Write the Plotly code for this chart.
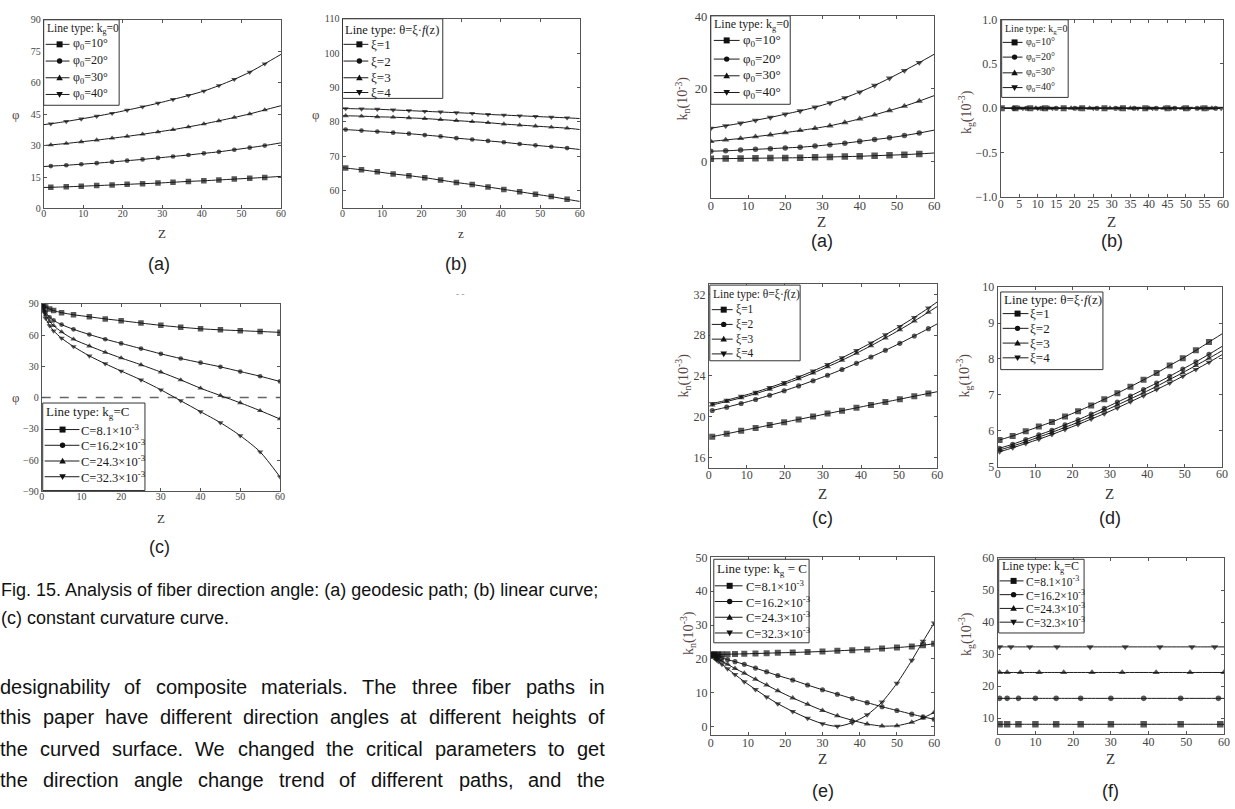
import plotly.graph_objects as go

W, H = 1235, 809

# ===================== DATA =====================
# Fig.15 (a): fibre direction angle phi, geodesic path (k_g = 0)
z15a = [0, 1.8, 5.7, 9.5, 13.4, 17.3, 21.1, 25.0, 28.9, 32.7, 36.6, 40.5, 44.3, 48.2, 52.1, 55.9, 60]
phi15a_10 = [10.0, 10.1, 10.3, 10.6, 10.9, 11.2, 11.5, 11.8, 12.1, 12.5, 12.9, 13.2, 13.6, 14.0, 14.4, 14.8, 15.3]
phi15a_20 = [20.0, 20.2, 20.6, 21.1, 21.6, 22.2, 22.8, 23.4, 24.1, 24.8, 25.5, 26.3, 27.0, 28.0, 29.0, 30.0, 31.3]
phi15a_30 = [30.0, 30.3, 31.0, 31.8, 32.6, 33.5, 34.4, 35.4, 36.5, 37.6, 38.9, 40.3, 41.8, 43.4, 45.1, 47.0, 49.0]
phi15a_40 = [40.0, 40.4, 41.5, 42.7, 44.0, 45.4, 46.9, 48.5, 50.2, 52.0, 53.9, 56.0, 58.6, 61.6, 65.0, 69.0, 73.5]

# Fig.15 (b): linear curve theta = xi * f(z)
z15b = [0, 0.8, 4.8, 8.8, 12.8, 16.8, 20.8, 24.8, 28.8, 32.8, 36.8, 40.8, 44.8, 48.8, 52.8, 56.8, 60]
phi15b_1 = [66.7, 66.6, 66.1, 65.5, 64.9, 64.4, 63.8, 63.1, 62.4, 61.8, 61.1, 60.4, 59.7, 59.0, 58.3, 57.5, 56.9]
phi15b_2 = [77.9, 77.8, 77.5, 77.2, 76.9, 76.6, 76.2, 75.8, 75.3, 74.9, 74.5, 74.1, 73.6, 73.2, 72.8, 72.4, 72.0]
phi15b_3 = [81.8, 81.8, 81.7, 81.5, 81.4, 81.2, 81.0, 80.7, 80.4, 80.1, 79.8, 79.4, 79.1, 78.8, 78.5, 78.2, 77.8]
phi15b_4 = [83.9, 83.9, 83.8, 83.7, 83.5, 83.3, 83.1, 82.9, 82.7, 82.5, 82.2, 82.0, 81.8, 81.6, 81.4, 81.2, 81.0]

# Fig.15 (c): constant curvature curve k_g = C
z15c = [0, 0.5, 1, 2, 3, 5, 8, 12, 16, 20, 25, 30, 35, 40, 45, 50, 55, 60]
phi15c_81 = [90, 88.5, 87, 85, 83.5, 81.5, 79.5, 77.5, 75.5, 73.8, 71.5, 69.3, 67.5, 66.0, 65.0, 64.2, 63.4, 62.6]
phi15c_162 = [90, 86, 82, 77, 74, 70, 65.5, 60.5, 56, 52, 47, 42, 37.5, 33.5, 29.5, 25, 20.5, 15.5]
phi15c_243 = [90, 84, 79, 73, 69, 63, 56, 49.5, 43.5, 38, 31.5, 24.5, 17, 9, 2, -5, -12.5, -20.5]
phi15c_323 = [90, 82, 76, 69, 64, 57, 49, 40, 32.5, 25.5, 17, 7.5, -3, -13.5, -24, -36.5, -52, -76]

# Right (a): normal curvature k_n, geodesic path
z16a = [0, 4, 8, 12, 16, 20, 24, 28, 32, 36, 40, 44, 48, 52, 56, 60]
kn16a_10 = [0.7, 0.75, 0.8, 0.85, 0.9, 0.95, 1.0, 1.1, 1.2, 1.3, 1.4, 1.55, 1.7, 1.85, 2.05, 2.3]
kn16a_20 = [2.8, 2.9, 3.1, 3.3, 3.5, 3.7, 3.9, 4.2, 4.6, 5.0, 5.5, 6.0, 6.5, 7.1, 7.8, 8.6]
kn16a_30 = [5.5, 5.9, 6.3, 6.8, 7.3, 7.9, 8.5, 9.1, 9.8, 10.7, 11.7, 12.8, 14.0, 15.2, 16.6, 18.1]
kn16a_40 = [9.1, 9.8, 10.5, 11.3, 12.1, 13.0, 13.9, 14.9, 16.1, 17.5, 19.1, 20.9, 22.9, 25.0, 27.2, 29.5]

# Right (b): geodesic curvature k_g, geodesic path (all zero)
z16b_10 = [0, 0.3, 4, 8, 12, 17, 22, 28, 33, 39, 45, 50, 55, 60]
z16b_20 = [0, 3.5, 7, 11, 15, 20, 26, 31, 36, 42, 47, 53, 58, 60]
z16b_30 = [0, 5, 9.5, 13, 19, 24, 29.5, 35, 40, 44, 49, 54, 57, 60]
z16b_40 = [0, 6, 10, 14, 21, 25, 32, 37, 41, 46, 51, 56, 59.5, 60]
kg16b_10 = [0, 0, 0, 0, 0, 0, 0, 0, 0, 0, 0, 0, 0, 0]
kg16b_20 = [0, 0, 0, 0, 0, 0, 0, 0, 0, 0, 0, 0, 0, 0]
kg16b_30 = [0, 0, 0, 0, 0, 0, 0, 0, 0, 0, 0, 0, 0, 0]
kg16b_40 = [0, 0, 0, 0, 0, 0, 0, 0, 0, 0, 0, 0, 0, 0]

# Right (c): k_n, linear curve
z16c = [0.9, 4.7, 8.5, 12.3, 16.0, 19.8, 23.6, 27.4, 31.2, 35.0, 38.8, 42.6, 46.4, 50.2, 54.0, 57.7, 60]
kn16c_1 = [18.06, 18.34, 18.63, 18.91, 19.19, 19.47, 19.75, 20.03, 20.32, 20.6, 20.88, 21.17, 21.45, 21.73, 22.02, 22.29, 22.46]
kn16c_2 = [20.62, 20.95, 21.31, 21.70, 22.11, 22.55, 23.03, 23.54, 24.07, 24.64, 25.24, 25.86, 26.52, 27.20, 27.92, 28.64, 29.10]
kn16c_3 = [21.17, 21.50, 21.87, 22.27, 22.71, 23.20, 23.72, 24.29, 24.90, 25.54, 26.23, 26.96, 27.73, 28.53, 29.38, 30.25, 30.80]
kn16c_4 = [21.30, 21.63, 22.01, 22.42, 22.87, 23.37, 23.91, 24.49, 25.12, 25.78, 26.49, 27.24, 28.03, 28.86, 29.74, 30.65, 31.25]

# Right (d): k_g, linear curve
z16d = [0.5, 4, 7.5, 11, 14.5, 18, 21.5, 25, 28.5, 32, 35.5, 39, 42.5, 46, 49.5, 53, 56.5, 60]
kg16d_1 = [5.75, 5.86, 5.99, 6.12, 6.25, 6.40, 6.55, 6.71, 6.88, 7.05, 7.23, 7.42, 7.61, 7.82, 8.02, 8.24, 8.47, 8.70]
kg16d_2 = [5.52, 5.63, 5.76, 5.89, 6.02, 6.17, 6.31, 6.47, 6.63, 6.80, 6.97, 7.15, 7.33, 7.52, 7.72, 7.92, 8.13, 8.35]
kg16d_3 = [5.47, 5.58, 5.70, 5.83, 5.96, 6.10, 6.24, 6.40, 6.56, 6.72, 6.89, 7.06, 7.24, 7.43, 7.62, 7.82, 8.02, 8.23]
kg16d_4 = [5.42, 5.53, 5.65, 5.77, 5.90, 6.04, 6.18, 6.33, 6.48, 6.64, 6.81, 6.98, 7.15, 7.33, 7.52, 7.71, 7.91, 8.12]

# Right (e): k_n, constant curvature curve
z16e = [0, 0.5, 1, 1.5, 2, 3, 4.5, 6.5, 9, 12, 15, 18, 22, 26, 30, 34, 38, 42, 46, 50, 54, 57, 60]
kn16e_81 = [21.3, 21.3, 21.3, 21.3, 21.3, 21.35, 21.4, 21.45, 21.5, 21.6, 21.7, 21.8, 21.9, 22.05, 22.2, 22.4, 22.6, 22.8, 23.05, 23.35, 23.7, 24.05, 24.5]
kn16e_162 = [21.3, 21.15, 21.0, 20.85, 20.7, 20.3, 19.8, 19.2, 18.4, 17.3, 16.2, 15.1, 13.8, 12.3, 10.9, 9.6, 8.3, 7.1, 5.9, 4.8, 3.7, 2.9, 2.2]
kn16e_243 = [21.3, 20.9, 20.5, 20.2, 19.9, 19.3, 18.4, 17.2, 15.8, 14.0, 12.3, 10.6, 8.5, 6.6, 4.8, 3.2, 1.9, 0.8, 0.2, 0.3, 1.3, 2.6, 4.2]
kn16e_323 = [21.3, 20.8, 20.3, 19.8, 19.3, 18.4, 17.1, 15.4, 13.3, 11.0, 8.8, 6.8, 4.5, 2.5, 0.9, 0.1, 1.2, 3.5, 7.3, 12.8, 19.6, 25.2, 30.6]

# Right (f): k_g, constant curvature curve
z16f_81 = [0, 0.5, 2.5, 5.5, 10, 15.5, 22, 30, 38.7, 48.5, 59, 60]
z16f_162 = [0, 0.5, 2.5, 5.5, 10, 15.5, 22, 30, 38.7, 48.5, 58.5, 60]
z16f_243 = [0, 0.5, 2.5, 6, 11, 17.5, 25, 33, 42, 51, 60]
z16f_323 = [0, 0.5, 3.5, 8.5, 15.7, 24.5, 33.8, 43, 51.5, 57.5, 60]
kg16f_81 = [8.1, 8.1, 8.1, 8.1, 8.1, 8.1, 8.1, 8.1, 8.1, 8.1, 8.1, 8.1]
kg16f_162 = [16.2, 16.2, 16.2, 16.2, 16.2, 16.2, 16.2, 16.2, 16.2, 16.2, 16.2, 16.2]
kg16f_243 = [24.3, 24.3, 24.3, 24.3, 24.3, 24.3, 24.3, 24.3, 24.3, 24.3, 24.3]
kg16f_323 = [32.3, 32.3, 32.3, 32.3, 32.3, 32.3, 32.3, 32.3, 32.3, 32.3, 32.3]

# legend labels
phi0_labels = ["φ<sub>0</sub>=10°", "φ<sub>0</sub>=20°", "φ<sub>0</sub>=30°", "φ<sub>0</sub>=40°"]
xi_labels = ["ξ=1", "ξ=2", "ξ=3", "ξ=4"]
c_labels = ["C=8.1×10<sup>-3</sup>", "C=16.2×10<sup>-3</sup>", "C=24.3×10<sup>-3</sup>", "C=32.3×10<sup>-3</sup>"]
SYMS = ["square", "circle", "triangle-up", "triangle-down"]

caption_lines = ["Fig. 15. Analysis of fiber direction angle: (a) geodesic path; (b) linear curve;",
                 "(c) constant curvature curve."]
body_lines = ["designability of composite materials. The three fiber paths in",
              "this paper have different direction angles at different heights of",
              "the curved surface. We changed the critical parameters to get",
              "the direction angle change trend of different paths, and the"]

# ===================== STYLE / LAYOUT =====================
SERIF = "Liberation Serif, Times New Roman, serif"
SANS = "Liberation Sans, Arial, sans-serif"
INK = "#1a1a1a"
TICKC = "#444444"
LABC = "#5a4646"


def fx(p):
    return p / W


def fy(p):
    return 1 - p / H


# panel: id, (left, right, top, bottom) px, x range, y range, x dtick, y dtick, y tick0, tick font size, y format
panels = [
    ("1", (41, 280, 13, 205), [0, 60], [0, 90], 10, 15, 0, 10, None),
    ("2", (342, 581, 12, 204.5), [0, 60], [55, 110], 10, 10, 60, 10, None),
    ("3", (39, 279, 302, 493), [0, 60], [-90, 90], 10, 30, 0, 10, None),
    ("4", (713, 938, 9.3, 194), [0, 60], [-10, 40], 10, 20, 0, 12.5, None),
    ("5", (1005, 1229, 13, 193), [0, 60], [-1, 1], 5, 0.5, 0, 12, ".1f"),
    ("6", (711, 941, 282, 469), [0, 60], [15, 33], 10, 4, 16, 12, None),
    ("7", (1002, 1228, 285, 468), [0, 60], [5, 10], 10, 1, 5, 12, None),
    ("8", (713, 938, 560, 741), [0, 60], [-2.5, 50], 10, 10, 0, 12, None),
    ("9", (1002, 1230, 561, 740), [0, 60], [5, 60], 10, 10, 10, 12, None),
]

fig = go.Figure()
layout_axes = {}
for pid, (l, r, t, b), xr, yr, xd, yd, y0, tfs, yfmt in panels:
    xname = "xaxis" if pid == "1" else "xaxis" + pid
    yname = "yaxis" if pid == "1" else "yaxis" + pid
    xref = "x" if pid == "1" else "x" + pid
    yref = "y" if pid == "1" else "y" + pid
    common = dict(showline=True, linecolor="#555555", linewidth=1, mirror="ticks", ticks="inside",
                  ticklen=3, tickcolor="#555555", showgrid=False, zeroline=False, fixedrange=True,
                  tickfont=dict(family=SERIF, size=tfs, color=TICKC))
    layout_axes[xname] = dict(domain=[fx(l), fx(r)], range=xr, dtick=xd, tick0=0, anchor=yref,
                              ticklabelstandoff=-4, **common)
    ya = dict(domain=[fy(b), fy(t)], range=yr, dtick=yd, tick0=y0, anchor=xref, **common)
    if yfmt:
        ya["tickformat"] = yfmt
    layout_axes[yname] = ya


def ax(pid):
    return ("x", "y") if pid == "1" else ("x" + pid, "y" + pid)


def add_series(pid, z, v, sym, name, msize=6, first=True, last=True):
    xa, ya = ax(pid)
    sizes = [msize] * len(z)
    if not first:
        sizes[0] = 0
    if not last:
        sizes[-1] = 0
    if sym == "circle":
        sizes = [s * 0.85 for s in sizes]
    fig.add_trace(go.Scatter(
        x=z, y=v, xaxis=xa, yaxis=ya, mode="lines+markers", name=name, showlegend=False,
        line=dict(color=INK, width=1, shape="spline", smoothing=0.7),
        marker=dict(symbol=sym, size=sizes, color="#111111", line=dict(width=0))))


shapes = []
annotations = []

# zero reference (dashed) in Fig.15 (c)
shapes.append(dict(type="line", xref="x3", yref="y3", x0=0, x1=60, y0=0, y1=0,
                   line=dict(color="#666666", width=1.5, dash="dash"), layer="below"))

for vals, s, nm in zip([phi15a_10, phi15a_20, phi15a_30, phi15a_40], SYMS, phi0_labels):
    add_series("1", z15a, vals, s, nm, 5.5, first=False, last=False)
for vals, s, nm in zip([phi15b_1, phi15b_2, phi15b_3, phi15b_4], SYMS, xi_labels):
    add_series("2", z15b, vals, s, nm, 5.5, first=False, last=False)
for vals, s, nm in zip([phi15c_81, phi15c_162, phi15c_243, phi15c_323], SYMS, c_labels):
    add_series("3", z15c, vals, s, nm, 5.5)
for vals, s, nm in zip([kn16a_10, kn16a_20, kn16a_30, kn16a_40], SYMS, phi0_labels):
    add_series("4", z16a, vals, s, nm, 6.5, last=False)
for zz, vals, s, nm in zip([z16b_10, z16b_20, z16b_30, z16b_40],
                           [kg16b_10, kg16b_20, kg16b_30, kg16b_40], SYMS, phi0_labels):
    add_series("5", zz, vals, s, nm, 6, first=False, last=False)
for vals, s, nm in zip([kn16c_1, kn16c_2, kn16c_3, kn16c_4], SYMS, xi_labels):
    add_series("6", z16c, vals, s, nm, 6, last=False)
for vals, s, nm in zip([kg16d_1, kg16d_2, kg16d_3, kg16d_4], SYMS, xi_labels):
    add_series("7", z16d, vals, s, nm, 6, last=False)
for vals, s, nm in zip([kn16e_81, kn16e_162, kn16e_243, kn16e_323], SYMS, c_labels):
    add_series("8", z16e, vals, s, nm, 6)
for zz, vals, s, nm, lst in zip([z16f_81, z16f_162, z16f_243, z16f_323],
                                [kg16f_81, kg16f_162, kg16f_243, kg16f_323], SYMS, c_labels,
                                [False, False, True, False]):
    add_series("9", zz, vals, s, nm, 6.5, first=False, last=lst)


def txt(x, y, s, size, family=SERIF, color=INK, xanchor="center", yanchor="middle", angle=0):
    annotations.append(dict(x=fx(x), y=fy(y), xref="paper", yref="paper", text=s, showarrow=False,
                            font=dict(family=family, size=size, color=color), xanchor=xanchor,
                            yanchor=yanchor, textangle=angle, borderpad=0))


def marker_shape(sym, cx, cy, s):
    base = dict(xref="paper", yref="paper", xsizemode="pixel", ysizemode="pixel",
                xanchor=fx(cx), yanchor=fy(cy), fillcolor="#111111", line=dict(width=0))
    h = s / 2.0
    if sym == "square":
        base.update(type="rect", x0=-h, x1=h, y0=-h, y1=h)
    elif sym == "circle":
        base.update(type="circle", x0=-h * 0.9, x1=h * 0.9, y0=-h * 0.9, y1=h * 0.9)
    elif sym == "triangle-up":
        base.update(type="path", path="M%.2f,%.2f L%.2f,%.2f L0,%.2f Z" % (-h * 1.1, -h * 0.8, h * 1.1, -h * 0.8, h * 1.1))
    else:
        base.update(type="path", path="M%.2f,%.2f L%.2f,%.2f L0,%.2f Z" % (-h * 1.1, h * 0.8, h * 1.1, h * 0.8, -h * 1.1))
    return base


kg0 = "Line type: k<sub>g</sub>=0"
lin = "Line type: θ=ξ·<i>f</i>(z)"
kgc = "Line type: k<sub>g</sub>=C"
legends = [
    dict(box=(41, 117, 13, 100), title=kg0, ty=22, rows=[38, 55, 72, 89], line=(43, 67), mx=57, tx=70, tfs=11.5, efs=12, labels=phi0_labels),
    dict(box=(342, 443, 12, 93), title=lin, ty=23, rows=[38, 55, 72, 87], line=(343, 368), mx=359, tx=370, tfs=12.5, efs=13, labels=xi_labels),
    dict(box=(40, 143, 403, 492), title=kgc, ty=413, rows=[430, 446, 462, 478], line=(42, 77), mx=60, tx=78, tfs=13, efs=12.5, labels=c_labels),
    dict(box=(713, 793, 9, 99), title=kg0, ty=18, rows=[34, 53, 70, 87], line=(716, 742), mx=729, tx=744, tfs=12, efs=13, labels=phi0_labels),
    dict(box=(1006, 1073, 13, 92), title=kg0, ty=23, rows=[36, 51, 67, 82], line=(1007, 1027), mx=1019, tx=1029, tfs=10, efs=10, labels=phi0_labels),
    dict(box=(712, 803, 283, 360), title=lin, ty=293, rows=[308, 323, 338, 353], line=(714, 735), mx=726, tx=737, tfs=11.5, efs=11.5, labels=xi_labels),
    dict(box=(1005, 1108, 290, 369), title=lin, ty=298, rows=[312, 327, 342, 357], line=(1007, 1033), mx=1022, tx=1034, tfs=13, efs=13, labels=xi_labels),
    dict(box=(716, 812, 562, 647), title="Line type: k<sub>g</sub> = C", ty=572, rows=[589, 605, 621, 637], line=(717, 745), mx=732, tx=747, tfs=13, efs=12.5, labels=c_labels),
    dict(box=(1003, 1089, 562, 637), title=kgc, ty=570, rows=[584, 598, 612, 626], line=(1004, 1028), mx=1018, tx=1029, tfs=12, efs=11.5, labels=c_labels),
]
for lg in legends:
    l, r, t, b = lg["box"]
    shapes.append(dict(type="rect", xref="paper", yref="paper", x0=fx(l), x1=fx(r), y0=fy(b), y1=fy(t),
                       line=dict(color="#333333", width=1), fillcolor="white"))
    txt(l + 2, lg["ty"], lg["title"], lg["tfs"], xanchor="left")
    for sym, lab, ry in zip(SYMS, lg["labels"], lg["rows"]):
        shapes.append(dict(type="line", xref="paper", yref="paper", x0=fx(lg["line"][0]), x1=fx(lg["line"][1]),
                           y0=fy(ry), y1=fy(ry), line=dict(color=INK, width=1)))
        shapes.append(marker_shape(sym, lg["mx"], ry, 6))
        txt(lg["tx"], ry, lab, lg["efs"], xanchor="left")

# axis titles
for x, y, s in [(13, 109, "φ"), (315, 109, "φ"), (13, 397, "φ")]:
    txt(x, y, s, 13, color=LABC)
for x, y, s in [(160, 230, "Z"), (461, 230, "z"), (159, 521, "Z")]:
    txt(x, y, s, 13, color="#333333")
for x, y in [(825, 219), (1117, 219), (826, 496), (1115, 496), (826, 765), (1116, 765)]:
    txt(x, y, "Z", 15, color="#333333")
kn = "k<sub>n</sub>(10<sup>-3</sup>)"
kg = "k<sub>g</sub>(10<sup>-3</sup>)"
for x, y, s in [(685, 93, kn), (970, 107, kg), (685, 375, kn), (968, 375, kg), (690, 637, kn), (970, 638, kg)]:
    txt(x, y, s, 14, color=LABC, angle=-90)

# sub-figure labels
for x, y, s in [(157, 262, "(a)"), (456, 262, "(b)"), (158, 550, "(c)"),
                (825, 238, "(a)"), (1117, 238, "(b)"), (826, 520, "(c)"),
                (1115, 520, "(d)"), (826, 798, "(e)"), (1116, 798, "(f)")]:
    txt(x, y, s, 18, family=SANS, color="#222222")
# small scan mark under (b)
txt(461, 292, "- -", 9, family=SANS, color="#888888")

# caption
txt(-3, 593, caption_lines[0], 18, family=SANS, color="#111111", xanchor="left")
txt(-3, 622, caption_lines[1], 18, family=SANS, color="#111111", xanchor="left")

# body text (justified word by word using Arial metrics)
AW = {" ": 278, ",": 278, ".": 278, "-": 333, ":": 278, ";": 278, "(": 333, ")": 333,
      "a": 556, "b": 556, "c": 500, "d": 556, "e": 556, "f": 278, "g": 556, "h": 556, "i": 222,
      "j": 222, "k": 500, "l": 222, "m": 833, "n": 556, "o": 556, "p": 556, "q": 556, "r": 333,
      "s": 500, "t": 278, "u": 556, "v": 500, "w": 722, "x": 500, "y": 500, "z": 500,
      "T": 611, "W": 944}


def tw(s, size):
    return sum(AW.get(c, 600) for c in s) * size / 1000.0


BODY_FS = 20
for line, y in zip(body_lines, [692, 723, 755, 787]):
    words = line.split(" ")
    widths = [tw(w, BODY_FS) for w in words]
    x_left, x_right = -4, 605
    gap = (x_right - x_left - sum(widths)) / (len(words) - 1)
    x = x_left
    for w, wd in zip(words, widths):
        txt(x, y, w, BODY_FS, family=SANS, color="#111111", xanchor="left")
        x += wd + gap

fig.update_layout(
    width=W, height=H, margin=dict(l=0, r=0, t=0, b=0),
    paper_bgcolor="white", plot_bgcolor="white", showlegend=False,
    shapes=shapes, annotations=annotations, **layout_axes)

fig.write_html("out.html", config={"displayModeBar": False},
               post_script="document.body.style.margin='0px';document.body.style.overflow='hidden';")
